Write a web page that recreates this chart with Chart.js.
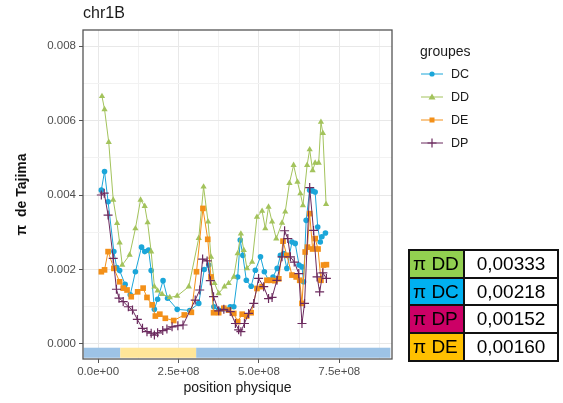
<!DOCTYPE html>
<html>
<head>
<meta charset="utf-8">
<script src="https://cdn.jsdelivr.net/npm/chart.js@4"></script>
<style>
body { margin: 0; background: #fff; font-family: "Liberation Sans", Arial, sans-serif; }
#wrap { position: relative; width: 563px; height: 403px; }
#chr { position: absolute; left: 83px; top: 4px; font-size: 16px; color: #1a1a1a; }
#leg { position: absolute; left: 420px; top: 43px; font-size: 14px; color: #1a1a1a; }
#leg .it { display: flex; align-items: center; height: 23px; font-size: 12.5px; margin-left: 1px; }
#leg .it svg { margin-right: 8px; }
#tab { position: absolute; left: 408px; top: 249px; border-collapse: collapse; font-size: 19px; }
#tab td { border: 2px solid #111; height: 25.7px; padding: 0 3px; line-height: 22px; }
#tab td.k { width: 47px; }
#tab td.v { width: 86px; text-align: center; background: #fff; }
</style>
</head>
<body>
<div id="wrap">
  <canvas id="myChart" width="563" height="403"></canvas>
  <div id="chr">chr1B</div>
  <div id="leg"><div style="margin-bottom:3px">groupes</div></div>
  <table id="tab"></table>
</div>
<script>
// positions en Mb, pi de Tajima
const dcPos = [10,20,31,49,58,67,84,100,116,135,145,157,165,175,185,202,216,246,285,313,330,344,360,375,391,411,422,434,442,450,461,476,489,505,517,530,544,557,567,577,587,603,613,625,634,639,647,658,667,675,683,691,696,707];
const dcPi = [0.00413,0.00463,0.00382,0.00248,0.00205,0.00197,0.0016,0.00132,0.00194,0.0026,0.00248,0.00252,0.00197,0.00093,0.0012,0.0017,0.00123,0.00093,0.0009,0.00109,0.002,0.00212,0.001,0.00091,0.00095,0.001,0.001,0.0018,0.00279,0.00238,0.00171,0.00155,0.00198,0.00234,0.00194,0.00171,0.0018,0.00203,0.00238,0.00243,0.00203,0.00274,0.0027,0.00212,0.00207,0.00167,0.00332,0.00413,0.00411,0.00408,0.00314,0.00274,0.00288,0.00298];

const ddPos = [12,20,33,47,59,67,75,98,116,132,145,154,165,175,185,199,223,246,282,313,328,342,351,362,375,393,406,422,434,444,453,463,479,494,510,520,530,541,554,572,582,595,608,620,629,637,650,658,667,675,686,693,699,709];
const ddPi = [0.00665,0.0063,0.00542,0.00387,0.00324,0.00272,0.00212,0.00239,0.0031,0.00387,0.0037,0.00326,0.00248,0.00154,0.00143,0.00134,0.00125,0.00129,0.00154,0.00284,0.00422,0.00328,0.00234,0.00163,0.00136,0.00154,0.00163,0.0018,0.00243,0.00296,0.00252,0.00203,0.0022,0.00341,0.00357,0.0031,0.00368,0.00328,0.00283,0.00325,0.00355,0.00432,0.0048,0.00435,0.00404,0.00372,0.0048,0.00522,0.00466,0.00486,0.00486,0.00596,0.00566,0.00375];

const dePos = [10,20,31,49,67,78,90,103,123,140,152,168,178,192,209,235,268,290,306,326,341,351,359,375,391,406,422,434,448,462,476,494,510,525,538,550,562,575,587,603,616,627,634,644,651,658,667,675,684,693,701,710];
const dePi = [0.00194,0.00199,0.00248,0.00203,0.00167,0.0015,0.00145,0.00127,0.0014,0.0015,0.00125,0.00105,0.00075,0.0008,0.00069,0.00063,0.00078,0.00085,0.00194,0.00364,0.00281,0.0018,0.00084,0.00084,0.00096,0.00091,0.00082,0.0006,0.0008,0.00075,0.00084,0.00149,0.00154,0.00171,0.00171,0.0017,0.00175,0.00276,0.00238,0.00185,0.0018,0.00171,0.00109,0.00247,0.0026,0.0035,0.00255,0.00283,0.00255,0.00171,0.00212,0.00213];

const dpPos = [10,19,31,47,57,65,78,94,107,122,138,152,165,175,185,201,214,230,248,264,302,316,325,339,349,359,375,391,411,427,437,444,455,468,484,499,515,530,541,556,572,580,590,598,610,624,634,642,658,670,681,689,699,710];
const dpPi = [0.004,0.00405,0.00346,0.0023,0.00147,0.00123,0.00114,0.001,0.00091,0.00066,0.00042,0.00033,0.00029,0.00024,0.0003,0.00036,0.0004,0.00046,0.00049,0.00051,0.00118,0.00145,0.00228,0.00223,0.0017,0.00127,0.00089,0.00093,0.00087,0.00055,0.00038,0.00033,0.00055,0.00082,0.00109,0.00176,0.00154,0.00122,0.00125,0.00171,0.00234,0.00304,0.00283,0.00234,0.0022,0.00189,0.00055,0.00109,0.0042,0.00305,0.0018,0.0014,0.00191,0.00176];

// graduations (majeures + mineures)
const xTicks = [0, 1.25e8, 2.5e8, 3.75e8, 5e8, 6.25e8, 7.5e8, 8.75e8];
const yTicks = [0, 0.001, 0.002, 0.003, 0.004, 0.005, 0.006, 0.007, 0.008];

// bande du bas (regions du chromosome), en Mb
const bandStart = [-45, 69, 305];
const bandEnd = [69, 305, 909];
const bandColor = ['#9DC3E6', '#FFE699', '#9DC3E6'];

// tableau pi moyen
const tabNames = ['π DD', 'π DC', 'π DP', 'π DE'];
const tabValues = ['0,00333', '0,00218', '0,00152', '0,00160'];
const tabColors = ['#92D050', '#00B0F0', '#CC0066', '#FFC000'];

const groups = ['DC', 'DD', 'DE', 'DP'];
const colors = ['#1BA6D9', '#A3C35C', '#F39019', '#6B2A5E'];
const styles = ['circle', 'triangle', 'rect', 'cross'];
const radii = [2.8, 3.6, 4, 4.5];

function pts(pos, pi) {
    return pos.map((p, i) => ({x: p * 1e6, y: pi[i]}));
}
const series = [pts(dcPos, dcPi), pts(ddPos, ddPi), pts(dePos, dePi), pts(dpPos, dpPi)];

function sci(v) {
    if (Math.abs(v) < 1) return '0.0e+00';
    let e = Math.floor(Math.log10(Math.abs(v)));
    let m = v / Math.pow(10, e);
    return m.toFixed(1) + 'e+' + (e < 10 ? '0' + e : e);
}

const bandPlugin = {
    id: 'band',
    beforeDatasetsDraw(chart) {
        const {ctx, scales: {x, y}} = chart;
        const y0 = y.getPixelForValue(-0.0001), y1 = y.getPixelForValue(-0.00037);
        for (let i = 0; i < bandStart.length; i++) {
            const x0 = x.getPixelForValue(bandStart[i] * 1e6), x1 = x.getPixelForValue(bandEnd[i] * 1e6);
            ctx.fillStyle = bandColor[i];
            ctx.fillRect(x0, y0, x1 - x0, y1 - y0);
        }
    },
    afterDraw(chart) {
        const {ctx, chartArea: a} = chart;
        ctx.save();
        ctx.strokeStyle = '#555';
        ctx.lineWidth = 1.3;
        ctx.strokeRect(a.left, a.top, a.right - a.left, a.bottom - a.top);
        ctx.restore();
    }
};

const majX = (v) => Math.round(v / 1.25e8) % 2 === 0;
const majY = (v) => Math.round(v * 1000) % 2 === 0;

const datasets = groups.map((g, i) => ({
    label: g,
    data: series[i],
    borderColor: colors[i],
    backgroundColor: colors[i],
    borderWidth: 1,
    pointStyle: styles[i],
    pointRadius: radii[i],
    pointBorderWidth: i === 3 ? 1.2 : 0,
    pointHoverRadius: radii[i],
    tension: 0,
    order: 4 - i
}));

new Chart(document.getElementById('myChart'), {
    type: 'line',
    data: {datasets},
    options: {
        responsive: false,
        animation: false,
        layout: {padding: {top: 30, right: 171, bottom: 0, left: 0}},
        plugins: {legend: {display: false}, tooltip: {enabled: false}},
        scales: {
            x: {
                type: 'linear',
                min: -0.47e8,
                max: 9.14e8,
                afterFit: (s) => { s.height = 44; },
                afterBuildTicks: (s) => { s.ticks = xTicks.map(v => ({value: v})); },
                ticks: {
                    autoSkip: false,
                    maxRotation: 0,
                    padding: 2,
                    color: '#4D4D4D',
                    font: {size: 11.5, family: 'Liberation Sans'},
                    callback: (v) => majX(v) ? sci(v) : ''
                },
                grid: {
                    color: (c) => majX(c.tick.value) ? '#E8E8E8' : '#F2F2F2',
                    tickColor: (c) => majX(c.tick.value) ? '#555' : 'rgba(0,0,0,0)',
                    tickLength: 4
                },
                border: {display: false},
                title: {
                    display: true,
                    text: 'position physique',
                    color: '#1a1a1a',
                    font: {size: 14, family: 'Liberation Sans'},
                    padding: {top: 0, bottom: 6}
                }
            },
            y: {
                min: -0.000403,
                max: 0.00843,
                afterFit: (s) => { s.width = 83; },
                afterBuildTicks: (s) => { s.ticks = yTicks.map(v => ({value: v})); },
                ticks: {
                    autoSkip: false,
                    padding: 3,
                    color: '#4D4D4D',
                    font: {size: 11.5, family: 'Liberation Sans'},
                    callback: (v) => majY(v) ? v.toFixed(3) : ''
                },
                grid: {
                    color: (c) => majY(c.tick.value) ? '#E8E8E8' : '#F2F2F2',
                    tickColor: (c) => majY(c.tick.value) ? '#555' : 'rgba(0,0,0,0)',
                    tickLength: 4
                },
                border: {display: false},
                title: {
                    display: true,
                    text: 'π  de Tajima',
                    color: '#111',
                    font: {size: 14, weight: 'bold', family: 'Liberation Sans'},
                    padding: {top: 14, bottom: 0}
                }
            }
        }
    },
    plugins: [bandPlugin]
});

// legende
const leg = document.getElementById('leg');
const keySvg = [
    (c) => `<circle cx="11" cy="6" r="2.6" fill="${c}"/>`,
    (c) => `<polygon points="11,2.5 14.5,8.5 7.5,8.5" fill="${c}"/>`,
    (c) => `<rect x="8.5" y="3.5" width="5" height="5" fill="${c}"/>`,
    (c) => `<path d="M11 1.5V10.5M6.5 6H15.5" stroke="${c}" stroke-width="1.2"/>`
];
groups.forEach((g, i) => {
    const d = document.createElement('div');
    d.className = 'it';
    d.innerHTML = `<svg width="22" height="12"><line x1="0" y1="6" x2="22" y2="6" stroke="${colors[i]}" stroke-width="1"/>${keySvg[i](colors[i])}</svg>${g}`;
    leg.appendChild(d);
});

// tableau
const tab = document.getElementById('tab');
tabNames.forEach((n, i) => {
    const r = tab.insertRow(-1);
    const k = r.insertCell(-1);
    k.className = 'k';
    k.style.background = tabColors[i];
    k.textContent = n;
    const v = r.insertCell(-1);
    v.className = 'v';
    v.textContent = tabValues[i];
});
</script>
</body>
</html>
